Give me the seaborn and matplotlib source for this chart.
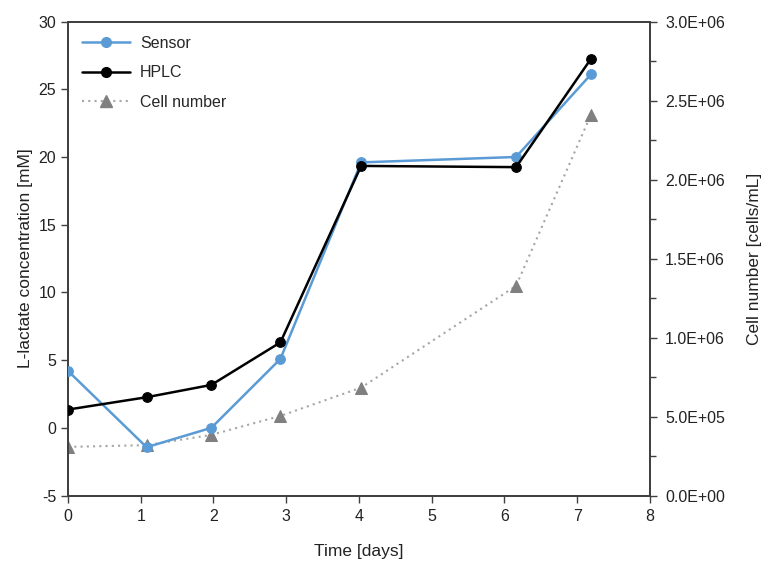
import matplotlib
matplotlib.use("Agg")
import matplotlib.pyplot as plt
import seaborn as sns
import pandas as pd
from matplotlib.ticker import MultipleLocator, FuncFormatter
from matplotlib.lines import Line2D

sns.set_style("white")
plt.rcParams['font.family'] = ['Liberation Sans', 'DejaVu Sans']
plt.rcParams['axes.unicode_minus'] = False

days = [0.0, 1.08, 1.97, 2.92, 4.03, 6.16, 7.19]
sensor = [4.2, -1.43, 0.0, 5.09, 19.6, 20.0, 26.1]
hplc = [1.35, 2.26, 3.17, 6.31, 19.34, 19.25, 27.25]
cells = [0.308e6, 0.319e6, 0.384e6, 0.504e6, 0.683e6, 1.327e6, 2.41e6]

df = pd.DataFrame({"day": days, "Sensor": sensor, "HPLC": hplc, "Cells": cells})

fig = plt.figure(figsize=(7.61, 5.67), dpi=100)
ax = fig.add_axes([0.0894, 0.126, 0.7646, 0.836])
ax2 = ax.twinx()

blue = "#5B9BD5"
spine_c = "#404040"
fs = 11.5
lfs = 12.5

sns.lineplot(data=df, x="day", y="Cells", ax=ax2, sort=False, color="#A6A6A6",
             linestyle=(0, (1, 2)), linewidth=1.5, marker="^", markersize=9,
             markerfacecolor="#808080", markeredgecolor="#808080", zorder=1)
sns.lineplot(data=df, x="day", y="Sensor", ax=ax, sort=False, color=blue,
             linewidth=1.8, marker="o", markersize=7, markeredgecolor=blue, zorder=3)
sns.lineplot(data=df, x="day", y="HPLC", ax=ax, sort=False, color="black",
             linewidth=1.8, marker="o", markersize=7, markeredgecolor="black", zorder=4)

ax.set_zorder(ax2.get_zorder() + 1)
ax.patch.set_visible(False)

ax.set_xlim(0, 8)
ax.set_ylim(-5, 30)
ax2.set_ylim(0, 3.0e6)
ax.xaxis.set_major_locator(MultipleLocator(1))
ax.yaxis.set_major_locator(MultipleLocator(5))
ax2.yaxis.set_major_locator(MultipleLocator(0.5e6))
ax2.yaxis.set_minor_locator(MultipleLocator(0.25e6))

def sci(v, pos):
    if v == 0:
        return "0.0E+00"
    return "%.1E" % v
ax2.yaxis.set_major_formatter(FuncFormatter(sci))

ax.set_xlabel("Time [days]", fontsize=lfs, color="#222222", labelpad=14)
ax.set_ylabel("L-lactate concentration [mM]", fontsize=lfs, color="#222222", labelpad=4)
ax2.set_ylabel("Cell number [cells/mL]", fontsize=lfs, color="#222222", labelpad=16)

for a in (ax, ax2):
    for s in a.spines.values():
        s.set_color(spine_c)
        s.set_linewidth(1.3)
    a.tick_params(axis="both", which="both", direction="out", color=spine_c,
                  labelsize=fs, labelcolor="#222222", width=1.0)
ax.tick_params(axis="both", which="major", length=5, left=True, bottom=True, right=False)
ax.tick_params(axis="x", pad=5)
ax2.tick_params(axis="y", which="major", length=5, right=True, pad=6)
ax2.tick_params(axis="y", which="minor", length=4, right=True)

handles = [
    Line2D([], [], color=blue, marker="o", markersize=7, linewidth=1.8),
    Line2D([], [], color="black", marker="o", markersize=7, linewidth=1.8),
    Line2D([], [], color="#A6A6A6", linestyle=(0, (1, 2)), linewidth=1.5, marker="^",
           markersize=8, markerfacecolor="#808080", markeredgecolor="#808080"),
]
ax.legend(handles, ["Sensor", "HPLC", "Cell number"], loc="upper left", frameon=False,
          fontsize=fs, handlelength=3.0, borderaxespad=0.5, labelspacing=0.9,
          handletextpad=0.6, bbox_to_anchor=(0.0, 1.0))

fig.savefig("out.png", dpi=100)
